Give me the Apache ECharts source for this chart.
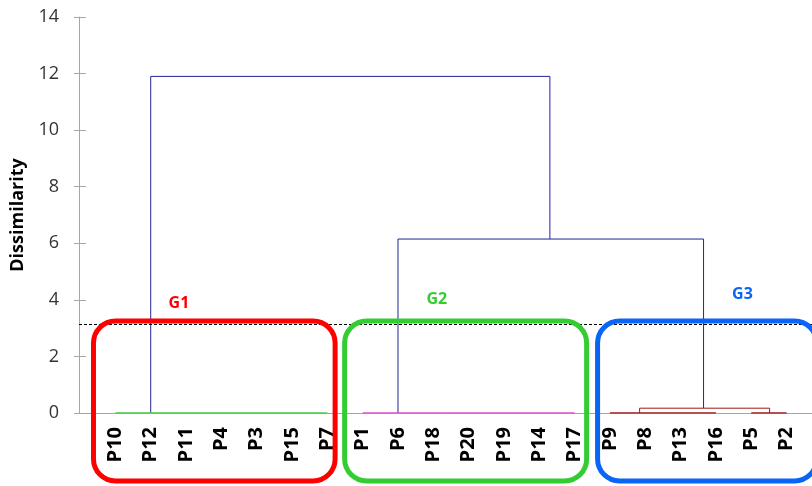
<!DOCTYPE html>
<html>
<head>
<meta charset="utf-8">
<script src="https://cdn.jsdelivr.net/npm/echarts@6/dist/echarts.min.js"></script>
<style>
  html, body { margin: 0; padding: 0; background: #fff; }
  #chart { width: 812px; height: 486px; }
</style>
</head>
<body>
<div id="chart"></div>
<script>
// 叶子（按树状图顺序）
const leaves = ['P10', 'P12', 'P11', 'P4', 'P3', 'P15', 'P7',
                'P1', 'P6', 'P18', 'P20', 'P19', 'P14', 'P17',
                'P9', 'P8', 'P13', 'P16', 'P5', 'P2']

// 合并连线：左腿 x、右腿 x（叶子序号，可为小数），左右腿底部高度，顶部高度
const linkLeftX = [1, 8, 14.84]
const linkRightX = [12.3, 16.65, 18.52]
const linkLeftBottom = [0, 0, 0]
const linkRightBottom = [6.15, 0.17, 0]
const linkTop = [11.9, 6.15, 0.17]
const linkColors = ['#22229a', '#22229a', '#a01818']

// 高度为 0 的叶子段
const flatFrom = [0, 7, 14, 18]
const flatTo = [6, 13, 17, 19]
const flatColors = ['#44cc44', '#e050c8', '#a01818', '#a01818']

// 截断线
const cutLevel = 3.15

// 分组
const groupNames = ['G1', 'G2', 'G3']
const groupColors = ['#ff0000', '#33cc33', '#0a64f5']
const groupLabelX = [1.8, 9.1, 17.75]
const groupLabelY = [3.87, 4.03, 4.2]

const chart = echarts.init(document.getElementById('chart'))

const series = []
linkLeftX.forEach((xl, i) => {
  series.push({
    type: 'line',
    symbol: 'none',
    animation: false,
    silent: true,
    lineStyle: { color: linkColors[i], width: 1 },
    data: [[xl, linkLeftBottom[i]], [xl, linkTop[i]], [linkRightX[i], linkTop[i]], [linkRightX[i], linkRightBottom[i]]]
  })
})
flatFrom.forEach((a, i) => {
  series.push({
    type: 'line',
    symbol: 'none',
    animation: false,
    silent: true,
    z: 3,
    lineStyle: { color: flatColors[i], width: 1.5 },
    data: [[a, 0], [flatTo[i], 0]]
  })
})
// 截断虚线
series.push({
  type: 'line',
  data: [],
  markLine: {
    silent: true,
    symbol: 'none',
    animation: false,
    label: { show: false },
    lineStyle: { color: '#000', type: [3, 2], width: 1 },
    data: [{ yAxis: cutLevel }]
  }
})

const font = 'Open Sans'
const gray = '#a6a6a6'
chart.setOption({
  animation: false,
  grid: { left: 79, top: 17, right: 0, bottom: 73, outerBoundsMode: 'none' },
  xAxis: {
    type: 'value',
    min: -1.03,
    max: 19.72,
    splitLine: { show: false },
    axisLine: { show: true, onZero: false, lineStyle: { color: gray, width: 1 } },
    axisTick: { show: false },
    axisLabel: {
      customValues: leaves.map((_, i) => i),
      formatter: v => leaves[Math.round(v)] || '',
      rotate: 90,
      margin: 14,
      color: '#000',
      fontWeight: 'bold',
      fontSize: 20,
      fontFamily: font
    }
  },
  yAxis: [{
    type: 'value',
    min: 0,
    max: 14,
    interval: 2,
    name: 'Dissimilarity',
    nameLocation: 'middle',
    nameGap: 52,
    nameTextStyle: { color: '#000', fontWeight: 'bold', fontSize: 18, fontFamily: font },
    splitLine: { show: false },
    axisLine: { show: true, onZero: false, lineStyle: { color: gray, width: 1 } },
    axisTick: { show: true, length: 5, lineStyle: { color: gray } },
    axisLabel: { color: '#333', fontSize: 18, margin: 20, fontFamily: font }
  }, {
    // 只画向内的刻度
    type: 'value',
    position: 'left',
    min: 0,
    max: 14,
    interval: 2,
    splitLine: { show: false },
    axisLine: { show: false, onZero: false },
    axisTick: { show: true, inside: true, length: 7, lineStyle: { color: gray } },
    axisLabel: { show: false }
  }],
  series
})

// 分组圆角框与标签（按数据坐标换算）
const px = (x, y) => chart.convertToPixel({ gridIndex: 0 }, [x, y])
const boxFrom = [-0.62, 6.49, 13.65]
const boxTo = [6.22, 13.34, 19.85]
const boxTopY = px(0, 3.25)[1]
const boxBottomY = 481
const graphic = []
groupNames.forEach((g, i) => {
  const x0 = px(boxFrom[i], 0)[0]
  const x1 = px(boxTo[i], 0)[0]
  graphic.push({
    type: 'rect',
    silent: true,
    z: 10,
    shape: { x: x0, y: boxTopY, width: x1 - x0, height: boxBottomY - boxTopY, r: 22 },
    style: { fill: 'none', stroke: groupColors[i], lineWidth: 5 }
  })
  const p = px(groupLabelX[i], groupLabelY[i])
  graphic.push({
    type: 'text',
    silent: true,
    z: 10,
    x: p[0],
    y: p[1],
    style: {
      text: g,
      fill: groupColors[i],
      font: 'bold 16px "Open Sans"',
      align: 'center',
      verticalAlign: 'middle'
    }
  })
})
chart.setOption({ graphic })
</script>
</body>
</html>
